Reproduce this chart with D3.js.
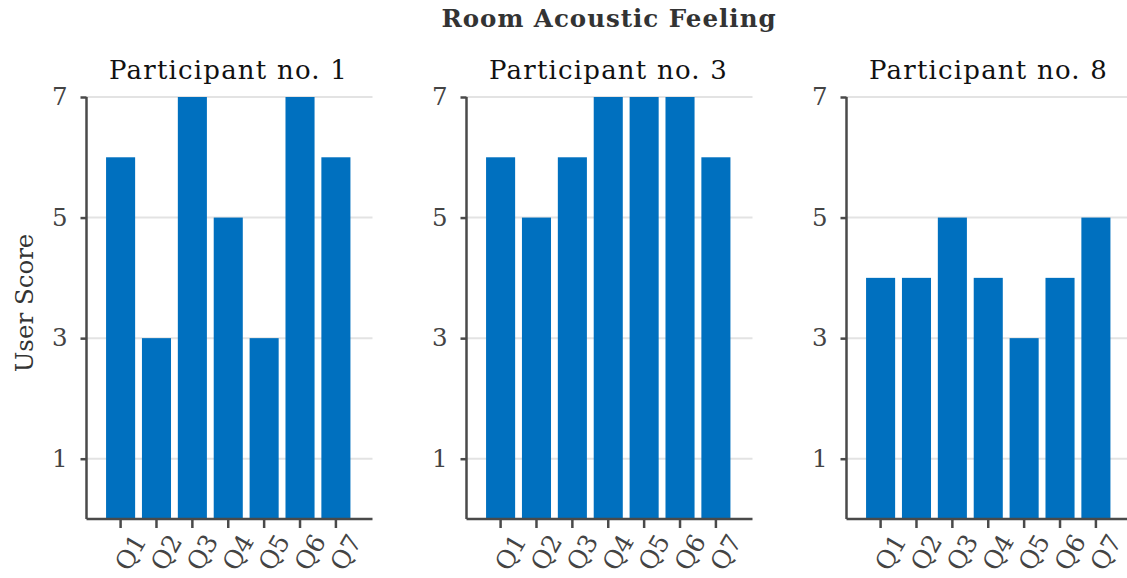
<!DOCTYPE html>
<html>
<head>
<meta charset="utf-8">
<script src="https://cdn.jsdelivr.net/npm/d3@7"></script>
<style>
  html, body { margin: 0; padding: 0; background: #fff; }
  svg { display: block; }
</style>
</head>
<body>
<svg id="chart" width="1127" height="578"></svg>
<script>
// Questionnaire items shown on each panel's x axis
const questions = ["Q1", "Q2", "Q3", "Q4", "Q5", "Q6", "Q7"];
// Panel headings
const participants = ["Participant no. 1", "Participant no. 3", "Participant no. 8"];
// Scores per participant, one value per question
const scoresP1 = [6, 3, 7, 5, 3, 7, 6];
const scoresP3 = [6, 5, 6, 7, 7, 7, 6];
const scoresP8 = [4, 4, 5, 4, 3, 4, 5];
// Y axis ticks
const yTicks = [1, 3, 5, 7];

const panelScores = [scoresP1, scoresP3, scoresP8];

const svg = d3.select("#chart");
const font = "'DejaVu Serif', 'Liberation Serif', serif";
const fontSize = 24.5;
const barColor = "#0070bf";
const axisColor = "#4a4a4a";

const panelLeft = [86.5, 466.5, 846.5];
const panelWidth = 286;
const plotTop = 97, plotBottom = 519;

const y = d3.scaleLinear().domain([0, 7]).range([plotBottom, plotTop]);

svg.append("text")
  .attr("x", 609).attr("y", 27)
  .attr("text-anchor", "middle")
  .attr("font-family", font)
  .attr("font-weight", "bold")
  .attr("font-size", fontSize)
  .attr("letter-spacing", 1)
  .attr("fill", "#333")
  .text("Room Acoustic Feeling");

svg.append("text")
  .attr("transform", `translate(33,${(plotTop + plotBottom) / 2 - 5}) rotate(-90)`)
  .attr("text-anchor", "middle")
  .attr("font-family", font)
  .attr("font-size", fontSize)
  .attr("fill", "#333")
  .text("User Score");

panelScores.forEach((scores, i) => {
  const x0 = panelLeft[i];
  const g = svg.append("g");

  const x = d3.scaleBand()
    .domain(questions)
    .range([x0, x0 + panelWidth])
    .paddingInner(0.19)
    .paddingOuter(0.58)
    .align(0.47);

  // gridlines
  g.selectAll("line.grid").data(yTicks).join("line")
    .attr("x1", x0).attr("x2", x0 + panelWidth)
    .attr("y1", d => y(d)).attr("y2", d => y(d))
    .attr("stroke", "#e3e3e3").attr("stroke-width", 2);

  // bars
  g.selectAll("rect").data(scores).join("rect")
    .attr("x", (d, j) => x(questions[j]))
    .attr("width", x.bandwidth())
    .attr("y", d => y(d))
    .attr("height", d => y(0) - y(d))
    .attr("fill", barColor);

  // y axis
  const yAxis = g.append("g")
    .attr("transform", `translate(${x0},0)`)
    .call(d3.axisLeft(y).tickValues(yTicks).tickSize(6).tickPadding(13).tickFormat(d3.format("d")));
  yAxis.select(".domain").attr("d", `M0,${plotTop}V${plotBottom}`);

  // x axis
  const xAxis = g.append("g")
    .attr("transform", `translate(0,${plotBottom})`)
    .call(d3.axisBottom(x).tickSize(9).tickPadding(6).tickSizeOuter(0));
  xAxis.select(".domain").attr("d", `M${x0},0H${x0 + panelWidth}`);

  [yAxis, xAxis].forEach(ax => {
    ax.select(".domain").attr("stroke", axisColor).attr("stroke-width", 2.5);
    ax.selectAll(".tick line").attr("stroke", axisColor).attr("stroke-width", 2.5);
    ax.selectAll(".tick text")
      .attr("font-family", font)
      .attr("font-size", fontSize)
      .attr("fill", "#444");
  });

  xAxis.selectAll(".tick text")
    .attr("font-size", 25)
    .attr("text-anchor", "end")
    .attr("dy", "0.35em")
    .attr("transform", "translate(6,10) rotate(-60)");

  g.append("text")
    .attr("x", x0 + panelWidth / 2 - 1).attr("y", 78.5)
    .attr("text-anchor", "middle")
    .attr("font-family", font)
    .attr("font-size", 26)
    .attr("letter-spacing", 1.2)
    .attr("fill", "#111")
    .text(participants[i]);
});
</script>
</body>
</html>
